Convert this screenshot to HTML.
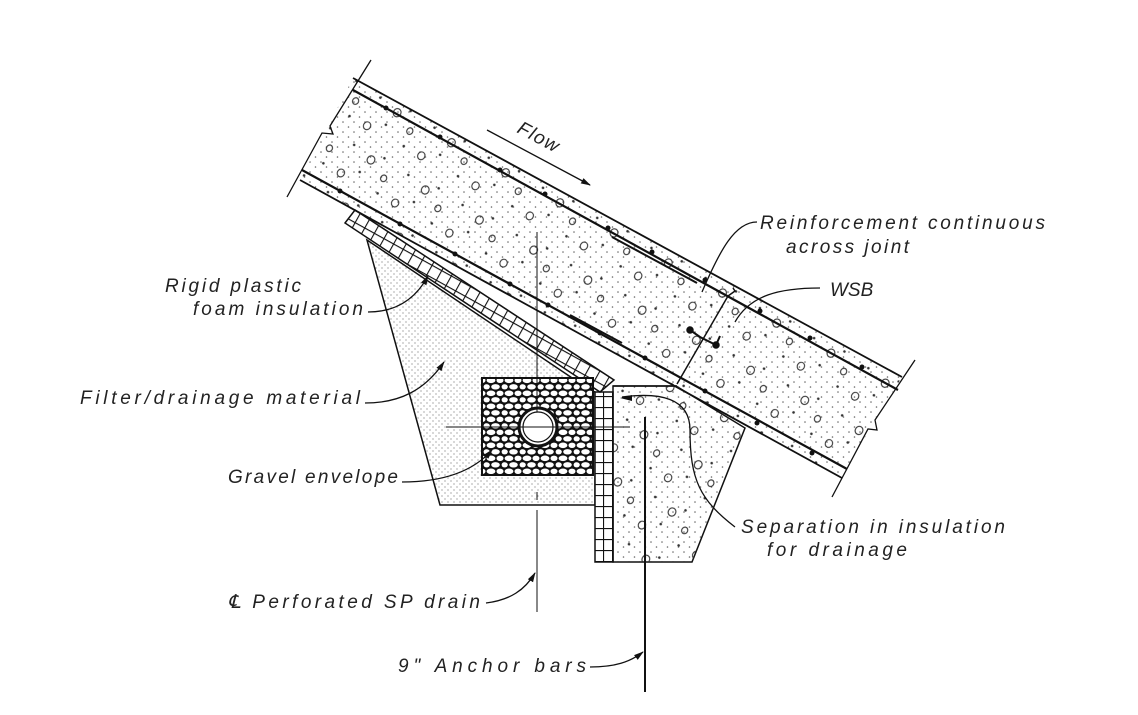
<!DOCTYPE html>
<html><head><meta charset="utf-8"><style>
html,body{margin:0;padding:0;background:#fff;}
svg{display:block;}
text{font-family:"Liberation Sans",sans-serif;font-style:italic;font-size:19px;fill:#222;}
</style></head><body>
<svg width="1138" height="715" viewBox="0 0 1138 715" xmlns="http://www.w3.org/2000/svg">
<defs>
<pattern id="dots" width="11" height="10" patternUnits="userSpaceOnUse">
<circle cx="2" cy="2" r="0.8" fill="#666"/><circle cx="7.5" cy="7" r="0.8" fill="#666"/>
</pattern>
<pattern id="fine" width="6" height="6" patternUnits="userSpaceOnUse">
<circle cx="1" cy="1" r="0.6" fill="#777"/><circle cx="4" cy="4" r="0.6" fill="#777"/>
</pattern>
<pattern id="conc" width="62" height="54" patternUnits="userSpaceOnUse" patternTransform="rotate(29)">
<circle cx="8" cy="9" r="1.3" fill="#333"/><circle cx="41" cy="6" r="1.3" fill="#333"/>
<circle cx="26" cy="30" r="1.3" fill="#333"/><circle cx="52" cy="40" r="1.3" fill="#333"/>
<ellipse cx="30" cy="14" rx="3.8" ry="4.2" fill="none" stroke="#333" stroke-width="1.1"/>
<ellipse cx="10" cy="40" rx="3.6" ry="4" fill="none" stroke="#333" stroke-width="1.1"/>
<ellipse cx="50" cy="24" rx="3" ry="3.4" fill="none" stroke="#333" stroke-width="1.1"/>
</pattern>
<pattern id="grav" width="18" height="13" patternUnits="userSpaceOnUse">
<rect width="18" height="13" fill="#111"/>
<ellipse cx="5" cy="3.3" rx="4.4" ry="2.8" fill="#fff"/>
<ellipse cx="14" cy="3.3" rx="3.5" ry="2.7" fill="#fff"/>
<ellipse cx="9.5" cy="9.8" rx="4.3" ry="2.7" fill="#fff"/>
<ellipse cx="0.8" cy="9.8" rx="3" ry="2.6" fill="#fff"/>
<ellipse cx="18.2" cy="9.8" rx="2.6" ry="2.6" fill="#fff"/>
</pattern>
<pattern id="ins" width="11" height="11" patternUnits="userSpaceOnUse" patternTransform="rotate(29)">
<rect width="11" height="11" fill="#fff"/>
<path d="M0 0.5H11M0.5 0V11" stroke="#111" stroke-width="1.2"/>
</pattern>
<pattern id="insv" width="9" height="11" patternUnits="userSpaceOnUse">
<rect width="9" height="11" fill="#fff"/>
<path d="M0 0.5H9M0.5 0V11" stroke="#111" stroke-width="1.2"/>
</pattern>
<marker id="ar" markerWidth="10" markerHeight="8" refX="9" refY="4" orient="auto" markerUnits="userSpaceOnUse">
<path d="M0 1L10 4L0 7Z" fill="#111"/>
</marker>
</defs>

<g stroke="#111" fill="none" stroke-width="1.5">
<polygon points="367,240 440,505 595,505 595,392 590,390" fill="url(#fine)" stroke="#111"/>
<polygon points="613,386 676,386 745,428 692,562 613,562" fill="url(#dots)"/>
<polygon points="613,386 676,386 745,428 692,562 613,562" fill="url(#conc)" stroke="none"/>
<rect x="595" y="392" width="18" height="170" fill="url(#insv)"/>
<polygon points="345,223 355,210 614,380 600,392" fill="url(#ins)"/>
<rect x="482" y="378" width="111" height="97" fill="url(#grav)" stroke-width="2"/>
<circle cx="538" cy="427" r="19" fill="#fff" stroke-width="3"/>
<circle cx="538" cy="427" r="15" fill="#fff" stroke-width="1.2"/>
<polygon points="353,78 902,377 845,470 842,478 300,180" fill="url(#dots)" stroke="none"/>
<polygon points="353,78 902,377 845,470 842,478 300,180" fill="url(#conc)" stroke="none"/>
<line x1="353" y1="78" x2="902" y2="377" stroke-width="1.8"/>
<line x1="353" y1="90" x2="898" y2="390" stroke-width="2.2"/>
<line x1="302" y1="170" x2="847" y2="469" stroke-width="2.2"/>
<line x1="300" y1="180" x2="842" y2="478" stroke-width="1.8"/>
<g fill="#111" stroke="none">
<circle cx="386" cy="108" r="2.5"/><circle cx="440" cy="137" r="2.5"/><circle cx="500" cy="170" r="2.5"/><circle cx="545" cy="194" r="2.5"/><circle cx="608" cy="228" r="2.5"/><circle cx="652" cy="252" r="2.5"/><circle cx="705" cy="280" r="2.5"/><circle cx="760" cy="311" r="2.5"/><circle cx="810" cy="338" r="2.5"/><circle cx="862" cy="367" r="2.5"/>
<circle cx="340" cy="191" r="2.5"/><circle cx="400" cy="224" r="2.5"/><circle cx="455" cy="254" r="2.5"/><circle cx="510" cy="284" r="2.5"/><circle cx="548" cy="305" r="2.5"/><circle cx="600" cy="333" r="2.5"/><circle cx="645" cy="358" r="2.5"/><circle cx="705" cy="391" r="2.5"/><circle cx="757" cy="423" r="2.5"/><circle cx="812" cy="453" r="2.5"/>
</g>
<polyline points="371,60 330,126 333,134 322,133 287,197" stroke-width="1.3"/>
<polyline points="915,360 875,420 877,430 868,429 832,497" stroke-width="1.3"/>
<polyline points="733,288 735,291 728,296 677,384" stroke-width="1.5"/>
<line x1="613" y1="386" x2="677" y2="386"/>
<line x1="612" y1="237" x2="697" y2="283" stroke-width="2"/>
<line x1="570" y1="315" x2="622" y2="343" stroke-width="2"/>
<polyline points="690,330 700,337 716,345 720,336" stroke-width="2"/>
<circle cx="690" cy="330" r="3" fill="#111"/><circle cx="716" cy="345" r="3" fill="#111"/>
<line x1="537" y1="232" x2="537" y2="412" stroke-width="1"/>
<line x1="537" y1="492" x2="537" y2="500" stroke-width="1"/>
<line x1="537" y1="510" x2="537" y2="612" stroke-width="1"/>
<line x1="446" y1="427" x2="630" y2="427" stroke-width="1"/>
<line x1="645" y1="417" x2="645" y2="692" stroke-width="2"/>
<path d="M622,397 C660,392 690,398 690,430 C690,480 700,500 735,527" stroke-width="1.3"/>
<path d="M632,395 L620,398 L632,401Z" fill="#111" stroke="none"/>
<line x1="487" y1="130" x2="590" y2="185" stroke-width="1.3" marker-end="url(#ar)"/>
<path d="M757,222 C735,222 720,250 702,292" stroke-width="1.3"/>
<path d="M820,288 C780,288 750,295 735,322" stroke-width="1.3"/>
<path d="M368,312 C395,312 415,300 428,276" stroke-width="1.3" marker-end="url(#ar)"/>
<path d="M365,403 C400,403 425,390 444,362" stroke-width="1.3" marker-end="url(#ar)"/>
<path d="M402,482 C435,482 470,475 492,450" stroke-width="1.3" marker-end="url(#ar)"/>
<path d="M486,603 C510,600 525,590 535,573" stroke-width="1.3" marker-end="url(#ar)"/>
<path d="M590,667 C615,667 630,662 643,652" stroke-width="1.3" marker-end="url(#ar)"/>
</g>

<text x="516" y="132" transform="rotate(28 516 132)" textLength="44">Flow</text>
<text x="760" y="229" textLength="285" lengthAdjust="spacing">Reinforcement continuous</text>
<text x="786" y="253" textLength="123" lengthAdjust="spacing">across joint</text>
<text x="830" y="296">WSB</text>
<text x="165" y="292" textLength="136" lengthAdjust="spacing">Rigid plastic</text>
<text x="193" y="315" textLength="170" lengthAdjust="spacing">foam insulation</text>
<text x="80" y="404" textLength="280" lengthAdjust="spacing">Filter/drainage material</text>
<text x="228" y="483" textLength="170" lengthAdjust="spacing">Gravel envelope</text>
<text x="741" y="533" textLength="264" lengthAdjust="spacing">Separation in insulation</text>
<text x="767" y="556" textLength="140" lengthAdjust="spacing">for drainage</text>
<text x="228" y="608" textLength="252" lengthAdjust="spacing">℄ Perforated SP drain</text>
<text x="398" y="672" textLength="188" lengthAdjust="spacing">9" Anchor bars</text>
</svg>
</body></html>
